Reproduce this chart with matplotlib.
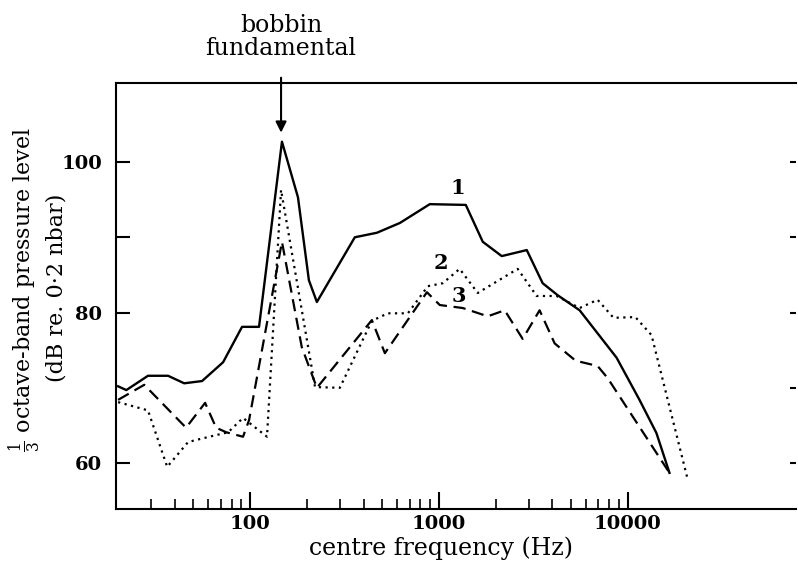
import matplotlib.pyplot as plt
from matplotlib.ticker import FixedLocator, FixedFormatter, NullFormatter

plt.rcParams['font.family'] = 'DejaVu Serif'
plt.rcParams['mathtext.fontset'] = 'dejavuserif'

# curve 1 (solid)
freq_1 = [20, 22.1, 28.8, 36.8, 44.8, 55.7, 72, 90.7, 111.6, 147.6, 179.5, 205, 226,
          359, 470, 622, 896, 1390, 1710, 2155, 2925, 3550, 4265, 5575, 8750, 11570,
          14220, 16680]
level_1 = [70.2, 69.7, 71.6, 71.6, 70.6, 70.9, 73.4, 78.1, 78.1, 102.7, 95.3, 84.3, 81.4,
           90.0, 90.6, 91.9, 94.4, 94.3, 89.4, 87.5, 88.3, 83.9, 82.3, 80.3, 74.0, 68.4,
           64.0, 58.7]

# curve 2 (dotted)
freq_2 = [20, 28.8, 36.4, 47.0, 56.4, 76.6, 91.8, 123, 146, 221, 299, 442, 537, 686,
          875, 1050, 1290, 1608, 2618, 3300, 4210, 5575, 6940, 8430, 11000, 13400, 20750]
level_2 = [68.1, 67.0, 59.5, 62.8, 63.3, 64.1, 66.0, 63.5, 96.3, 70.1, 70.0, 78.9, 79.9,
           79.9, 83.5, 83.9, 85.8, 82.6, 85.8, 82.2, 82.2, 80.6, 81.7, 79.3, 79.4, 77.0, 58.0]

# curve 3 (dashed)
freq_3 = [20, 27.5, 45.8, 57.8, 66.1, 74.7, 91.8, 98.8, 147.6, 188, 226, 442, 518, 865,
          1012, 1340, 1816, 2234, 2782, 3420, 4110, 5310, 6940, 7840, 16680]
level_3 = [68.4, 70.4, 64.7, 68.0, 64.7, 64.1, 63.5, 65.7, 89.4, 75.4, 70.0, 79.0, 74.6,
           82.7, 81.0, 80.6, 79.5, 80.3, 76.5, 80.3, 75.9, 73.6, 72.9, 71.3, 58.7]

x_major = [100, 1000, 10000]
x_major_labels = ['100', '1000', '10000']
x_minor = [30, 40, 50, 60, 70, 80, 90, 200, 300, 400, 500, 600, 700, 800, 900,
           2000, 3000, 4000, 5000, 6000, 7000, 8000, 9000]
y_ticks = [60, 80, 90, 100]
y_labels = ['60', '80', '', '100']
y_ticks_right = [60, 70, 80, 90, 100]

fig = plt.figure(figsize=(7.98, 5.66), dpi=100)
ax = fig.add_axes([0.1454, 0.1007, 0.852, 0.7527])

ax.plot(freq_1, level_1, color='black', lw=1.7, ls='-')
ax.plot(freq_2, level_2, color='black', lw=1.6, ls=(0, (1, 2)))
ax.plot(freq_3, level_3, color='black', lw=1.6, ls=(0, (5.5, 3)))

ax.set_xscale('log')
ax.set_xlim(19.5, 78000)
ax.set_ylim(53.9, 110.5)

ax.xaxis.set_major_locator(FixedLocator(x_major))
ax.xaxis.set_major_formatter(FixedFormatter(x_major_labels))
ax.xaxis.set_minor_locator(FixedLocator(x_minor))
ax.xaxis.set_minor_formatter(NullFormatter())
ax.yaxis.set_major_locator(FixedLocator(y_ticks))
ax.yaxis.set_major_formatter(FixedFormatter(y_labels))

ax.tick_params(axis='x', which='major', direction='in', length=12, width=1.5, pad=4,
               labelsize=14)
ax.tick_params(axis='x', which='minor', direction='in', length=7, width=1.2)
ax.tick_params(axis='y', direction='in', length=10, width=1.5, pad=10, labelsize=14)
for lab in ax.get_xticklabels() + ax.get_yticklabels():
    lab.set_fontweight('bold')

ax.spines['right'].set_visible(False)
for s in ['left', 'bottom', 'top']:
    ax.spines[s].set_linewidth(1.5)

# small ticks on the right side, no spine
ax2 = ax.twinx()
ax2.set_ylim(53.9, 110.5)
ax2.yaxis.set_major_locator(FixedLocator(y_ticks_right))
ax2.tick_params(axis='y', direction='in', length=4, width=1.5, labelright=False)
for s in ax2.spines.values():
    s.set_visible(False)

# curve numbers
ax.text(1262, 96.5, '1', ha='center', va='center', fontsize=15, fontweight='bold')
ax.text(1026, 86.6, '2', ha='center', va='center', fontsize=15, fontweight='bold')
ax.text(1272, 82.2, '3', ha='center', va='center', fontsize=15, fontweight='bold')

# bobbin fundamental arrow
ax.annotate('', xy=(146, 103.9), xytext=(146, 111.2), annotation_clip=False,
            arrowprops=dict(arrowstyle='-|>', color='black', lw=1.5,
                            mutation_scale=16, shrinkA=0, shrinkB=0))
fig.text(281 / 798, 1 - 37 / 566, 'bobbin\nfundamental', ha='center', va='center',
         multialignment='center', fontsize=17, linespacing=1.0)

fig.text(441 / 798, 1 - 548 / 566, 'centre frequency (Hz)', ha='center', va='center',
         fontsize=17)
fig.text(25 / 798, 1 - 290 / 566, '$\\frac{1}{3}$ octave-band pressure level',
         ha='center', va='center', rotation=90, fontsize=16)
fig.text(56 / 798, 1 - 288 / 566, '(dB re. 0·2 nbar)',
         ha='center', va='center', rotation=90, fontsize=16)

fig.savefig('out.png', dpi=100)
